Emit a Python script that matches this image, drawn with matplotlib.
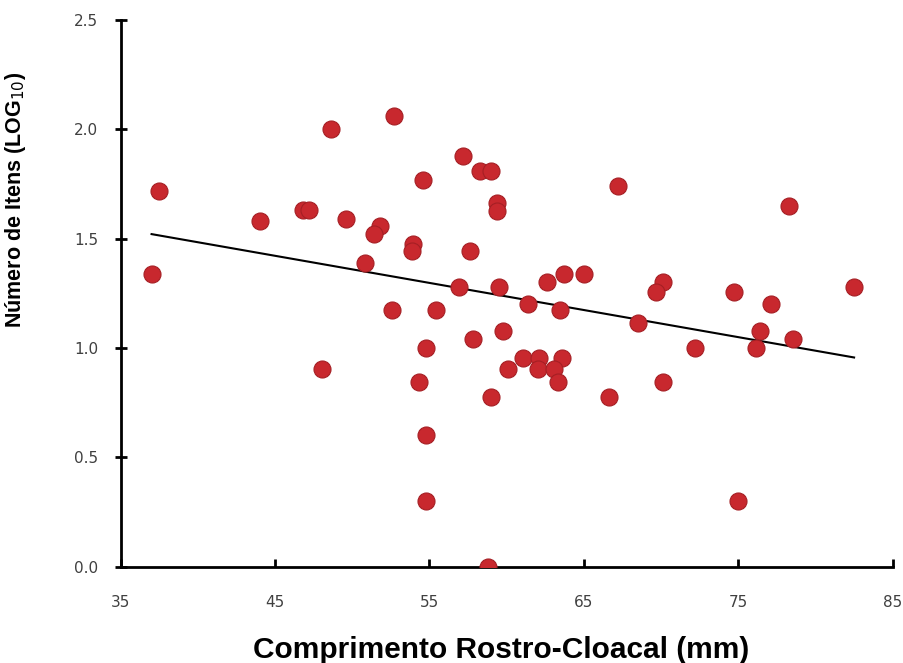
import numpy as np
import matplotlib
matplotlib.use("Agg")
import matplotlib.pyplot as plt

# Snout-vent length (mm) and log10 number of prey items per individual
crc_mm = [37.0, 37.5, 44.0, 46.8, 47.2, 48.6, 49.6, 51.8, 51.4, 50.8,
          52.7, 53.9, 53.85, 57.15, 58.3, 59.0, 54.6, 59.35, 59.4, 57.6,
          56.9, 59.5, 67.2, 78.3, 62.6, 63.7, 65.0, 70.1, 69.7, 74.7,
          82.5, 61.4, 63.45, 77.1, 68.5, 59.75, 76.4, 78.55, 72.2, 76.15,
          61.05, 62.1, 63.55, 60.1, 62.05, 63.05, 63.3, 70.1, 59.0, 66.6,
          75.0, 58.8, 52.6, 55.4, 57.85, 54.8, 48.05, 54.3, 54.8, 54.8]
log_itens = [1.34, 1.72, 1.58, 1.63, 1.63, 2.00, 1.59, 1.556, 1.52, 1.39,
             2.06, 1.475, 1.446, 1.876, 1.81, 1.81, 1.77, 1.663, 1.625, 1.446,
             1.28, 1.28, 1.74, 1.65, 1.30, 1.34, 1.34, 1.30, 1.255, 1.255,
             1.28, 1.20, 1.176, 1.20, 1.114, 1.08, 1.08, 1.04, 1.00, 1.00,
             0.954, 0.954, 0.954, 0.903, 0.903, 0.903, 0.845, 0.845, 0.778, 0.778,
             0.301, 0.0, 1.176, 1.176, 1.04, 1.00, 0.903, 0.845, 0.602, 0.301]

x_ticks = [35, 45, 55, 65, 75, 85]
y_ticks = [0.0, 0.5, 1.0, 1.5, 2.0, 2.5]

fig = plt.figure(figsize=(9.04, 6.63), dpi=100)
ax = fig.add_axes([0.1335, 0.1452, 0.854, 0.8246])

ax.scatter(crc_mm, log_itens, s=150, color="#c8282e", edgecolors="#a51f24",
           linewidths=0.8, zorder=3)

# Least-squares trend line over the observed size range
x = np.array(crc_mm)
y = np.array(log_itens)
slope, intercept = np.polyfit(x, y, 1)
xl = np.array([x.min(), x.max()])
ax.plot(xl, slope * xl + intercept, color="black", lw=1.5, zorder=2)

ax.set_xlim(35, 85)
ax.set_ylim(0, 2.5)
ax.set_xticks(x_ticks)
ax.set_yticks(y_ticks)
ax.set_yticklabels([f"{v:.1f}" for v in y_ticks])

for s in ("top", "right"):
    ax.spines[s].set_visible(False)
for s in ("left", "bottom"):
    ax.spines[s].set_linewidth(2)
    ax.spines[s].set_color("black")

ax.tick_params(axis="x", direction="in", length=6, width=2, pad=20,
               labelsize=11, labelcolor="#404040")
ax.tick_params(axis="y", direction="inout", length=8, width=2, pad=12,
               labelsize=11, labelcolor="#404040")

ax.set_ylabel("Número de Itens (LOG$_{10}$)", fontsize=15.5, fontweight="bold",
              family="Liberation Sans")
ax.yaxis.set_label_coords(-0.12, 0.67)
ax.set_xlabel("Comprimento Rostro-Cloacal (mm)", fontsize=21.5, fontweight="bold",
              family="Liberation Sans")
ax.xaxis.set_label_coords(0.493, -0.126)

fig.savefig("out.png", dpi=100)
